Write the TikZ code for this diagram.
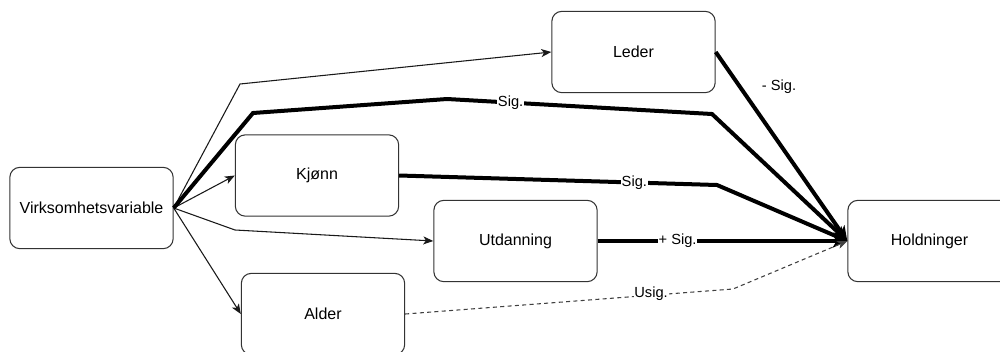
\documentclass[tikz,border=0pt]{standalone}
\usepackage{fontspec}
\setmainfont{Liberation Sans}
\usetikzlibrary{arrows.meta}
\begin{document}
\begin{tikzpicture}[x=0.75pt,y=-0.75pt,
  box/.style={draw=black!80,line width=0.8pt,rounded corners=7.5pt,fill=white,
    minimum width=122.5pt,minimum height=61pt,inner sep=0pt,font=\fontsize{12}{14}\selectfont},
  thin/.style={draw=black!90,line width=0.8pt,-{Stealth[length=7.5pt,width=6pt,inset=2pt]}},
  thick/.style={draw=black,line width=3pt,line join=miter,-{Stealth[length=11pt,width=10pt,inset=3pt]}},
  weak/.style={draw=black!75,line width=0.8pt,dash pattern=on 3pt off 2.5pt,-{Stealth[length=7.5pt,width=6pt,inset=2pt]}},
  lbl/.style={fill=white,inner sep=0.6pt,font=\fontsize{11}{13}\selectfont}]
\clip (0,0) rectangle (1000,351);
\fill[white] (0,0) rectangle (1000,351);

% variables
\node[box] (virk) at (91.5,208) {Virksomhetsvariable};
\node[box] (leder) at (633.5,52) {Leder};
\node[box] (kjonn) at (317,175.5) {Kjønn};
\node[box] (utd) at (515.5,241) {Utdanning};
\node[box] (alder) at (323,314) {Alder};
\node[box] (hold) at (929.5,241) {Holdninger};

% bend points
\coordinate (b1) at (240,84);
\coordinate (t1) at (253,113);
\coordinate (t2) at (447,99);
\coordinate (t3) at (712,114);
\coordinate (k1) at (717,185);
\coordinate (u1) at (235,230);
\coordinate (a1) at (733,289);

% paths from the company variable
\draw[thin] (virk.east) -- (b1) -- (leder.west);
\draw[thin] (virk.east) -- (kjonn.west);
\draw[thin] (virk.east) -- (u1) -- (utd.west);
\draw[thin] (virk.east) -- (alder.west);
\draw[thick] (virk.east) -- (t1) -- (t2) -- node[lbl,pos=0.24] (s1) {Sig.} (t3) -- (hold.west);

% paths into attitudes
\draw[thick] (leder.east) -- (hold.west);
\node[font=\fontsize{11}{13}\selectfont] (s2) at (779,87) {- Sig.};
\draw[thick] (kjonn.east) -- node[lbl,pos=0.74] (s3) {Sig.} (k1) -- (hold.west);
\draw[thick] (utd.east) -- node[lbl,pos=0.32] (s4) {+ Sig.} (hold.west);
\draw[weak] (alder.east) -- node[lbl,pos=0.75,yshift=1.5pt] (s5) {Usig.} (a1) -- (hold.west);
\end{tikzpicture}
\end{document}
